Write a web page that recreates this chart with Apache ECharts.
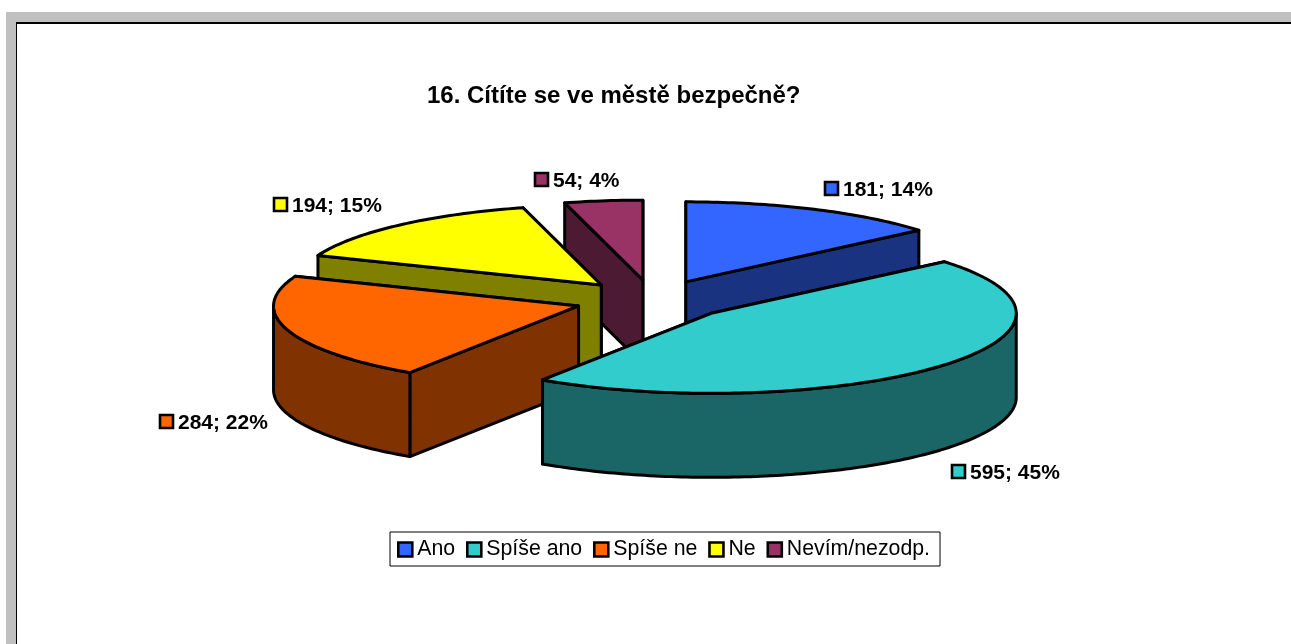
<!DOCTYPE html>
<html><head><meta charset="utf-8">
<style>html,body{margin:0;padding:0;background:#fff}#c{width:1291px;height:644px}</style>
<script src="https://cdn.jsdelivr.net/npm/echarts@6/dist/echarts.min.js"></script>
</head><body><div id="c"></div>
<script>
const titleText = '16. Cítíte se ve městě bezpečně?';
const categories = ['Ano', 'Spíše ano', 'Spíše ne', 'Ne', 'Nevím/nezodp.'];
const values = [181, 595, 284, 194, 54];
const topColors = ['#3366FF', '#33CCCC', '#FF6600', '#FFFF00', '#993366'];
const wallColors = ['#1A3380', '#1A6666', '#803300', '#808000', '#4D1A33'];
const drawOrder = [4, 0, 3, 2, 1];
const labelAnchors = [[823, 189], [950, 472], [158, 422], [272, 205], [533, 180]];

const PIE = {cx: 653, cy: 300, rx: 305, ry: 80, depth: 84, exX: 78, exY: 20};
const total = values.reduce((a, b) => a + b, 0);
const rad = d => d * Math.PI / 180;

function renderSlice(idx) {
  return function (params, api) {
    let before = 0;
    for (let i = 0; i < idx; i++) before += values[i];
    const a0 = before / total * 360;
    const value = api.value(0);
    const a1 = a0 + value / total * 360;
    const mid = rad((a0 + a1) / 2);
    const ax = PIE.cx + PIE.exX * Math.sin(mid);
    const ay = PIE.cy - PIE.exY * Math.cos(mid);
    const pt = (deg, dz) => [ax + PIE.rx * Math.sin(rad(deg)), ay - PIE.ry * Math.cos(rad(deg)) + (dz || 0)];
    const stroke = {stroke: '#000', lineWidth: 3, lineJoin: 'round'};
    const poly = (points, fill) => ({type: 'polygon', shape: {points}, style: Object.assign({fill}, stroke)});
    const arc = (from, to, dz) => {
      const out = [];
      const n = Math.max(2, Math.ceil(Math.abs(to - from)));
      for (let i = 0; i <= n; i++) out.push(pt(from + (to - from) * i / n, dz));
      return out;
    };
    const radial = deg => poly([[ax, ay], pt(deg), pt(deg, PIE.depth), [ax, ay + PIE.depth]], wallColors[idx]);
    const children = [];
    const startVisible = Math.sin(rad(a0)) < 0;
    if (startVisible) { children.push(radial(a1), radial(a0)); }
    else { children.push(radial(a0), radial(a1)); }
    const f0 = Math.max(a0, 90), f1 = Math.min(a1, 270);
    if (f1 > f0) {
      children.push(poly(arc(f0, f1, 0).concat(arc(f1, f0, PIE.depth)), wallColors[idx]));
    }
    children.push(poly([[ax, ay]].concat(arc(a0, a1, 0)), topColors[idx]));
    const [lx, ly] = labelAnchors[idx];
    children.push({type: 'rect', shape: {x: lx + 2, y: ly - 7, width: 13, height: 13},
      style: {fill: topColors[idx], stroke: '#000', lineWidth: 2.6}, z2: 50});
    children.push({type: 'text', x: lx + 20, y: ly + 1, z2: 50, style: {
      text: value + '; ' + Math.round(value / total * 100) + '%',
      fill: '#000', font: 'bold 21px "Liberation Sans"', align: 'left', verticalAlign: 'middle'}});
    return {type: 'group', children};
  };
}

const chart = echarts.init(document.getElementById('c'), null, {renderer: 'canvas'});
chart.setOption({
  animation: false,
  backgroundColor: '#fff',
  title: {text: titleText, left: 427, top: 84, padding: 0,
    textStyle: {fontFamily: 'Liberation Sans', fontWeight: 'bold', fontSize: 24, color: '#000'}},
  legend: {
    data: categories, left: 390, top: 532, orient: 'horizontal',
    itemWidth: 14, itemHeight: 14, itemGap: 10.8, padding: [7, 10, 6, 7],
    backgroundColor: '#fff', borderColor: '#000', borderWidth: 1, borderRadius: 0,
    selectedMode: false, icon: 'rect',
    itemStyle: {borderColor: '#000', borderWidth: 2.6},
    textStyle: {fontFamily: 'Liberation Sans', fontSize: 21.3, color: '#000'}
  },
  graphic: [
    {type: 'rect', z: -10, shape: {x: 6, y: 12, width: 1285, height: 632}, style: {fill: '#C0C0C0'}},
    {type: 'rect', z: -9, shape: {x: 16, y: 22, width: 1275, height: 622}, style: {fill: '#000'}},
    {type: 'rect', z: -8, shape: {x: 17, y: 24, width: 1274, height: 620}, style: {fill: '#fff'}}
  ],
  series: drawOrder.map(i => ({
    type: 'custom', name: categories[i], coordinateSystem: 'none', silent: true, clip: false,
    itemStyle: {color: topColors[i]},
    data: [[values[i]]],
    renderItem: renderSlice(i)
  }))
});
</script></body></html>
